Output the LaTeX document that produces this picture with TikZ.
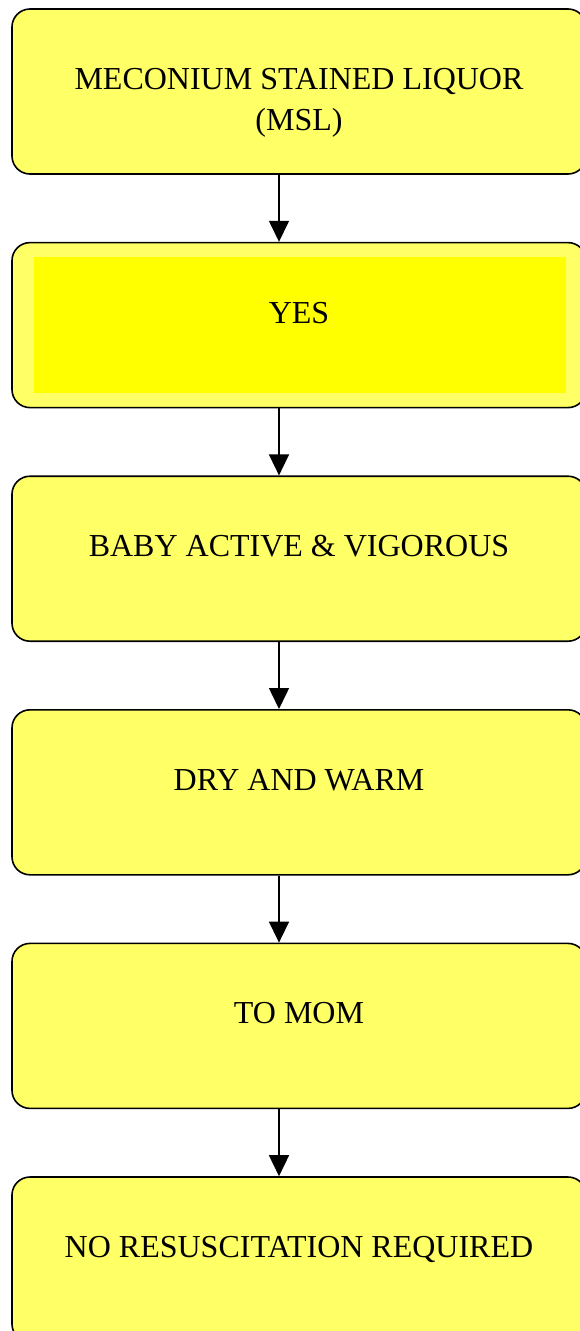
\documentclass[tikz,border=0pt]{standalone}
\usepackage{fontspec}
\setmainfont{Liberation Serif}
\usepackage{tikz}
\usetikzlibrary{positioning,arrows.meta}
\definecolor{paleyel}{RGB}{255,255,102}
\definecolor{brightyel}{RGB}{255,255,0}
\tikzset{
  stage/.style  ={draw=black, fill=paleyel, line width=1.6pt, rounded corners=18pt,
                  minimum width=574pt, minimum height=165pt, inner sep=0pt, align=center,
                  font=\fontsize{32}{41}\selectfont, text height=20pt, text depth=24pt},
  twoline/.style={text height=78pt, text depth=0pt},
  yesbox/.style ={path picture={\fill[brightyel,sharp corners]
                  ([shift={(22pt,-14pt)}]path picture bounding box.north west) rectangle
                  ([shift={(-20pt,15pt)}]path picture bounding box.south east);}},
  arr/.style    ={-{Triangle[width=20pt,length=21pt]}, draw=black, line width=1.5pt},
}
\begin{document}
\begin{tikzpicture}[x=1pt,y=1pt,node distance=67pt]
\useasboundingbox (0,0) rectangle (579,-1331);
\coordinate (ax) at (279,0);

\node[stage,twoline] (msl) at (299,-91.5) {MECONIUM STAINED LIQUOR\\(MSL)};
\node[stage,yesbox,below=of msl] (yes) {YES};
\node[stage,below=of yes] (active) {BABY ACTIVE \& VIGOROUS};
\node[stage,below=of active] (dry) {DRY AND WARM};
\node[stage,below=of dry] (mom) {TO MOM};
\node[stage,below=of mom] (nores) {NO RESUSCITATION REQUIRED};

\draw[arr] (msl.south-|ax)--(yes.north-|ax);
\draw[arr] (yes.south-|ax)--(active.north-|ax);
\draw[arr] (active.south-|ax)--(dry.north-|ax);
\draw[arr] (dry.south-|ax)--(mom.north-|ax);
\draw[arr] (mom.south-|ax)--(nores.north-|ax);
\end{tikzpicture}
\end{document}
